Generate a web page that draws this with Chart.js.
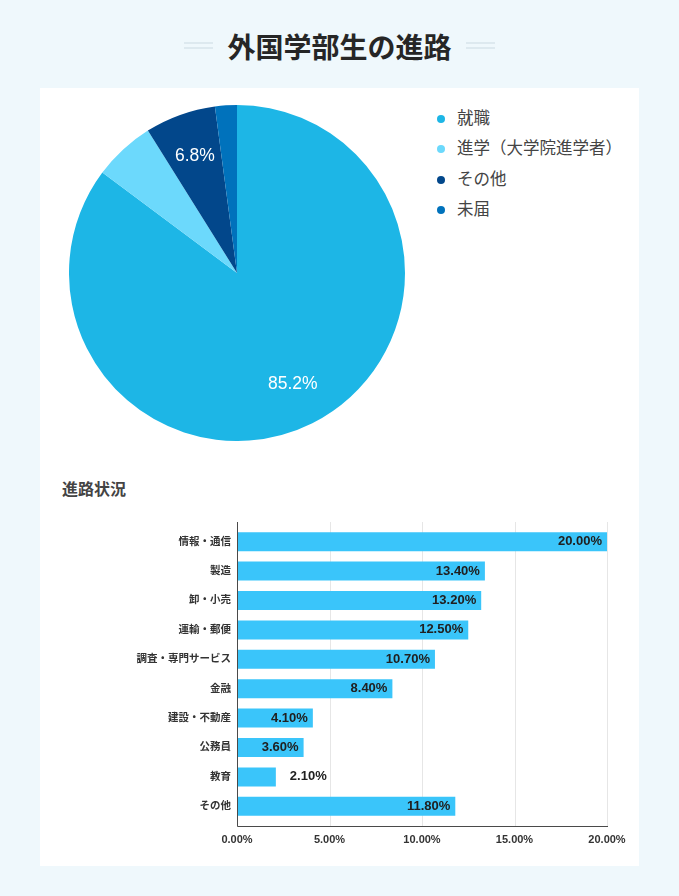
<!DOCTYPE html>
<html lang="ja">
<head>
<meta charset="utf-8">
<title>外国学部生の進路</title>
<script src="https://cdn.jsdelivr.net/npm/chart.js@4.4.1/dist/chart.umd.min.js"></script>
<style>
  html, body { margin: 0; padding: 0; }
  body {
    width: 679px; height: 896px; position: relative; overflow: hidden;
    background: #eff8fc;
    font-family: 'Noto Sans CJK JP', sans-serif;
  }
  .title {
    position: absolute; left: 0; top: 26px; width: 679px;
    text-align: center; font-size: 28px; font-weight: 700; line-height: 40px; color: #262626;
  }
  .deco {
    position: absolute; top: 42px; width: 29px; height: 3px;
    border-top: 2px solid #dde9ef; border-bottom: 2px solid #dde9ef;
  }
  .card { position: absolute; left: 40px; top: 88px; width: 599px; height: 778px; background: #fff; }
  #pie-wrap { position: absolute; left: 69px; top: 105px; width: 336px; height: 336px; }
  #legend { position: absolute; left: 437px; top: 102px; margin: 0; padding: 0; list-style: none; }
  #legend li { height: 30.3px; line-height: 30px; font-size: 16.5px; color: #444; white-space: nowrap; }
  #legend .dot { display: inline-block; width: 8px; height: 8px; border-radius: 50%; margin-right: 12px; vertical-align: 1px; }
  .subtitle {
    position: absolute; left: 62px; top: 478px; font-size: 16px; font-weight: 700; line-height: 20px; color: #444;
  }
  #bar-wrap { position: absolute; left: 40px; top: 500px; width: 599px; height: 366px; }
</style>
</head>
<body>
<div class="title">外国学部生の進路</div>
<div class="deco" style="left:184px"></div>
<div class="deco" style="left:466px"></div>
<div class="card"></div>
<div id="pie-wrap"><canvas id="chart-pie"></canvas></div>
<ul id="legend"></ul>
<div class="subtitle">進路状況</div>
<div id="bar-wrap"><canvas id="chart-bar"></canvas></div>

<script>
// pie: 進路の内訳 (%)
const PIE_LABELS = ['就職', '進学（大学院進学者）', 'その他', '未届'];
const PIE_VALUES = [85.2, 5.9, 6.8, 2.1];
const PIE_COLORS = ['#1db6e6', '#6cd9fc', '#02478b', '#0072bc'];
const PIE_SHOW_LABEL = [true, false, true, false];

// bar: 就職先の業種 (%)
const BAR_LABELS = ['情報・通信', '製造', '卸・小売', '運輸・郵便', '調査・専門サービス', '金融', '建設・不動産', '公務員', '教育', 'その他'];
const BAR_VALUES = [20.0, 13.4, 13.2, 12.5, 10.7, 8.4, 4.1, 3.6, 2.1, 11.8];
const X_TICKS = [0, 5, 10, 15, 20];

const BAR_COLOR = '#3ac5fa';
const FONT = "'Liberation Sans', 'Noto Sans CJK JP', sans-serif";

Chart.defaults.font.family = FONT;
Chart.defaults.color = '#333';
Chart.defaults.animation = false;

// legend (html)
const legend = document.getElementById('legend');
PIE_LABELS.forEach((lab, i) => {
  const li = document.createElement('li');
  li.innerHTML = `<span class="dot" style="background:${PIE_COLORS[i]}"></span>${lab}`;
  legend.appendChild(li);
});

const pieLabels = {
  id: 'pieLabels',
  afterDatasetsDraw(chart) {
    const ctx = chart.ctx;
    const meta = chart.getDatasetMeta(0);
    ctx.save();
    ctx.fillStyle = '#fff';
    ctx.font = `17.5px ${FONT}`;
    ctx.textAlign = 'center';
    ctx.textBaseline = 'middle';
    meta.data.forEach((arc, i) => {
      if (!PIE_SHOW_LABEL[i]) return;
      const p = arc.getProps(['x', 'y', 'startAngle', 'endAngle', 'outerRadius'], true);
      const mid = (p.startAngle + p.endAngle) / 2;
      const r = p.outerRadius * 0.74;
      ctx.fillText(PIE_VALUES[i].toFixed(1) + '%', p.x + Math.cos(mid) * r, p.y + Math.sin(mid) * r);
    });
    ctx.restore();
  },
};

new Chart(document.getElementById('chart-pie'), {
  type: 'pie',
  data: {
    labels: PIE_LABELS,
    datasets: [{ data: PIE_VALUES, backgroundColor: PIE_COLORS, borderWidth: 0, hoverOffset: 0 }],
  },
  options: {
    responsive: true,
    maintainAspectRatio: false,
    layout: { padding: 0 },
    plugins: { legend: { display: false }, tooltip: { enabled: false } },
  },
  plugins: [pieLabels],
});

// grid + axis lines run 5px past the bars, like the original
const axisLines = {
  id: 'axisLines',
  beforeDatasetsDraw(chart) {
    const { ctx, chartArea: a, scales: { x } } = chart;
    ctx.save();
    ctx.lineWidth = 1;
    ctx.strokeStyle = '#e6e6e6';
    x.ticks.forEach((t) => {
      const px = Math.round(x.getPixelForValue(t.value)) + 0.5;
      ctx.beginPath();
      ctx.moveTo(px, a.top - 5);
      ctx.lineTo(px, a.bottom + 5);
      ctx.stroke();
    });
    ctx.restore();
  },
  afterDatasetsDraw(chart) {
    const { ctx, chartArea: a } = chart;
    ctx.save();
    ctx.lineWidth = 1;
    ctx.strokeStyle = '#4a4a4a';
    const lx = Math.round(a.left) + 0.5;
    const by = Math.round(a.bottom + 5) + 0.5;
    ctx.beginPath();
    ctx.moveTo(lx, a.top - 5);
    ctx.lineTo(lx, by);
    ctx.lineTo(a.right + 1, by);
    ctx.stroke();
    ctx.restore();
  },
};

const barValues = {
  id: 'barValues',
  afterDatasetsDraw(chart) {
    const ctx = chart.ctx;
    const meta = chart.getDatasetMeta(0);
    ctx.save();
    ctx.font = `bold 13px ${FONT}`;
    ctx.fillStyle = '#202020';
    ctx.textBaseline = 'middle';
    meta.data.forEach((bar, i) => {
      const txt = BAR_VALUES[i].toFixed(2) + '%';
      const w = ctx.measureText(txt).width;
      const p = bar.getProps(['x', 'y', 'base'], true);
      if (p.x - p.base > w + 10) {
        ctx.textAlign = 'right';
        ctx.fillText(txt, p.x - 5, p.y);
      } else {
        ctx.textAlign = 'left';
        ctx.fillText(txt, p.x + 14, p.y);
      }
    });
    ctx.restore();
  },
};

new Chart(document.getElementById('chart-bar'), {
  type: 'bar',
  data: {
    labels: BAR_LABELS,
    datasets: [{
      data: BAR_VALUES,
      backgroundColor: BAR_COLOR,
      borderWidth: 0,
      categoryPercentage: 1,
      barPercentage: 0.646,
    }],
  },
  options: {
    indexAxis: 'y',
    responsive: true,
    maintainAspectRatio: false,
    layout: { padding: { left: 0, right: 32, top: 27, bottom: 0 } },
    plugins: { legend: { display: false }, tooltip: { enabled: false } },
    scales: {
      x: {
        min: 0,
        max: 20,
        afterBuildTicks: (s) => { s.ticks = X_TICKS.map((v) => ({ value: v })); },
        afterFit: (s) => { s.height = 45; },
        grid: { display: false, drawTicks: false },
        border: { display: false },
        ticks: {
          padding: 12,
          color: '#333',
          font: { size: 11, weight: 'bold' },
          callback: (v) => Number(v).toFixed(2) + '%',
        },
      },
      y: {
        afterFit: (s) => { s.width = 197; },
        grid: { display: false, drawTicks: false },
        border: { display: false },
        ticks: { padding: 6, color: '#333', font: { size: 10.5, weight: 'bold' } },
      },
    },
  },
  plugins: [axisLines, barValues],
});
</script>
</body>
</html>
